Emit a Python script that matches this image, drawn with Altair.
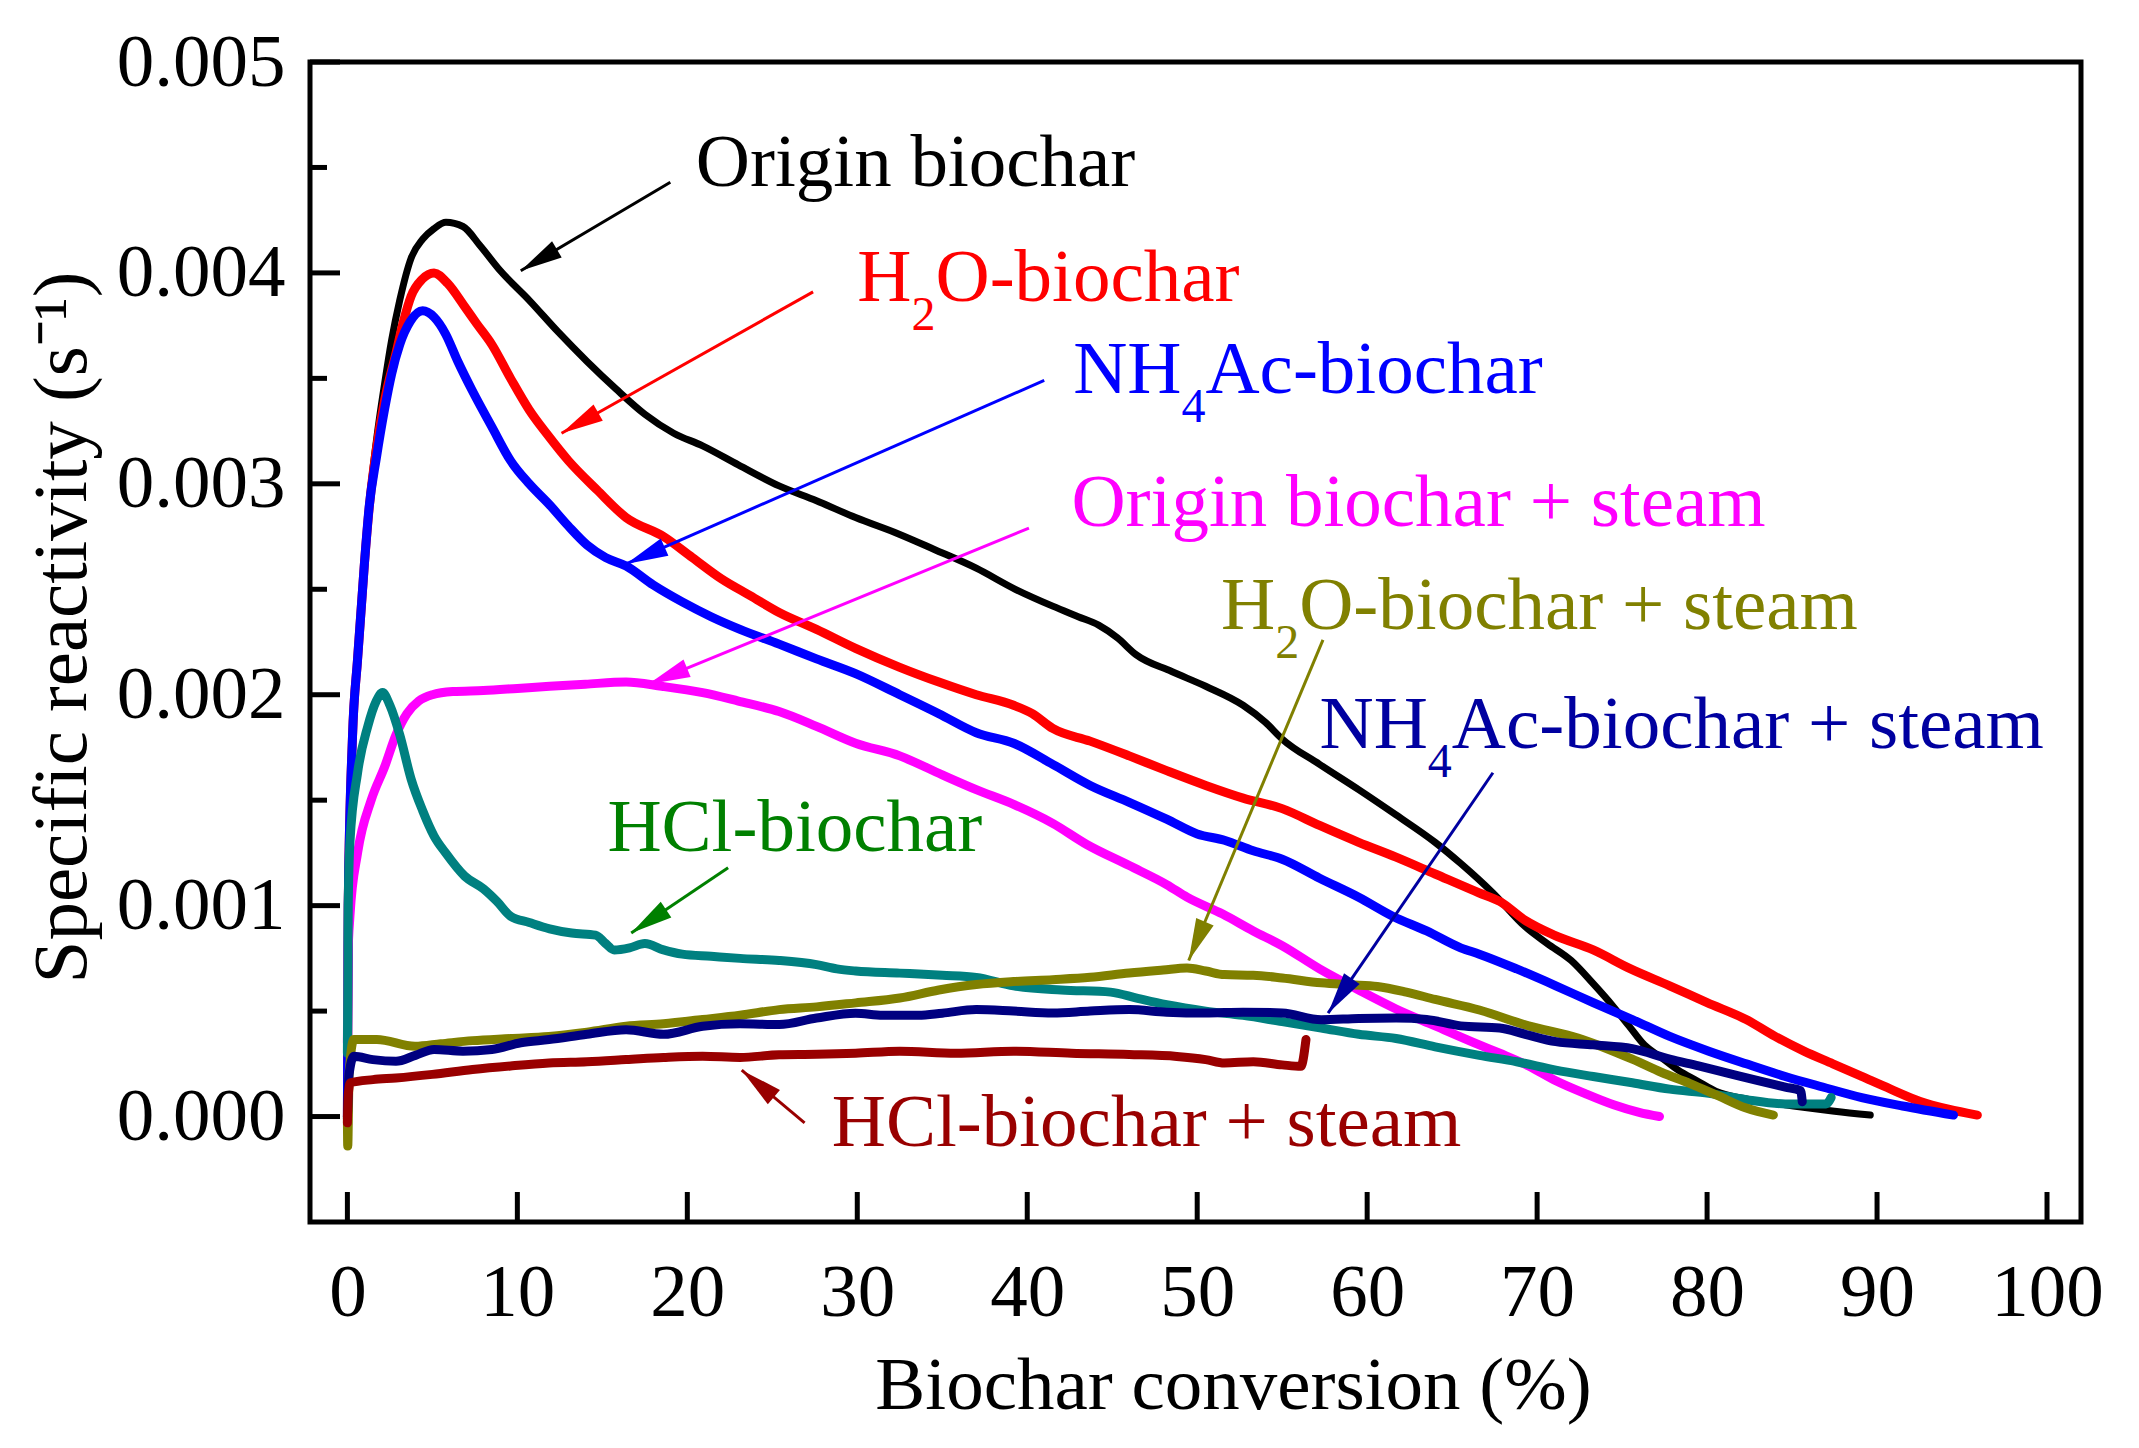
import math
import altair as alt
import pandas as pd

FONT = "Liberation Serif"

# ---------------- axes ----------------
X_DOMAIN = [-2.2, 102]
Y_DOMAIN = [-0.0005, 0.005]
W, H = 1771, 1160
PX_X = W / (X_DOMAIN[1] - X_DOMAIN[0])
PX_Y = H / (Y_DOMAIN[1] - Y_DOMAIN[0])

x_ticks = [0, 10, 20, 30, 40, 50, 60, 70, 80, 90, 100]
y_ticks = [0.0, 0.001, 0.002, 0.003, 0.004, 0.005]
y_minor = [0.0005, 0.0015, 0.0025, 0.0035, 0.0045]

# ---------------- series ----------------
series_names = ["Origin biochar", "H2O-biochar", "NH4Ac-biochar", "Origin biochar + steam",
                "HCl-biochar", "H2O-biochar + steam", "NH4Ac-biochar + steam", "HCl-biochar + steam"]
series_colors = ["#000000", "#FF0000", "#0000FF", "#FF00FF", "#008080", "#808000", "#000080", "#990000"]
series_widths = [7, 9, 9, 9, 9, 9, 9, 9]

origin_x = [0.0, 0.05, 0.3, 0.6, 1.0, 1.3, 1.7, 2.2, 2.6, 3.08, 3.75, 4.43, 5.1, 5.8, 6.8, 7.8, 9.0, 10.7,
            12.4, 14.1, 15.8, 17.5, 19.2, 20.9, 23.0, 25.4, 27.6, 29.9, 32.5, 34.5, 37.0, 39.3, 41.5, 43.0,
            44.2, 45.3, 46.4, 48.5, 50.5, 52.7, 54.0, 55.0, 57.2, 59.5, 61.7, 64.0, 65.5, 67.4, 69.3, 70.6,
            72.0, 73.3, 74.5, 75.4, 76.3, 77.3, 78.3, 79.4, 80.5, 82.5, 84.6, 86.0, 87.5, 89.6]
origin_y = [0.0, 0.00100, 0.00180, 0.00217, 0.00262, 0.00292, 0.00320, 0.00348, 0.00368, 0.00387,
            0.00407, 0.00416, 0.00421, 0.00424, 0.00422, 0.00413, 0.00401, 0.00387, 0.00372, 0.00358,
            0.00345, 0.00333, 0.00324, 0.00318, 0.00309, 0.00299, 0.00292, 0.00284, 0.00276, 0.00269,
            0.00260, 0.00250, 0.00242, 0.00237, 0.00233, 0.00227, 0.00219, 0.00211, 0.00204, 0.00195,
            0.00187, 0.00179, 0.00167, 0.00155, 0.00143, 0.00130, 0.00120, 0.00106, 0.00090, 0.00082,
            0.00074, 0.00063, 0.00052, 0.00043, 0.00034, 0.00028, 0.00022, 0.00017, 0.00012, 0.00008,
            0.000056, 0.00004, 0.000025, 0.000007]

h2o_x = [0.0, 0.05, 0.3, 0.6, 1.0, 1.3, 1.7, 2.2, 2.86, 3.3, 3.75, 4.4, 5.1, 5.9, 6.9, 7.6, 8.5, 9.6, 10.7,
         11.8, 13.0, 14.7, 16.4, 18.6, 20.3, 22.0, 23.7, 25.4, 27.6, 29.9, 32.5, 34.8, 37.0, 39.2, 40.3,
         41.5, 43.7, 46.0, 48.2, 50.5, 52.7, 55.0, 57.2, 59.5, 61.7, 64.0, 66.6, 67.8, 69.3, 71.0, 73.3,
         75.5, 77.8, 80.0, 82.3, 84.0, 85.7, 87.4, 89.1, 90.8, 92.5, 94.2, 95.9]
h2o_y = [0.0, 0.00100, 0.00180, 0.00217, 0.00262, 0.00290, 0.00316, 0.00340, 0.00362, 0.00377,
         0.00389, 0.00397, 0.00400, 0.00395, 0.00384, 0.00376, 0.00366, 0.00350, 0.00335, 0.00323,
         0.00311, 0.00297, 0.00284, 0.00275, 0.00265, 0.00255, 0.00247, 0.00239, 0.00231, 0.00222,
         0.00213, 0.00206, 0.00200, 0.00195, 0.00191, 0.00184, 0.00178, 0.00171, 0.00164, 0.00157,
         0.00151, 0.00146, 0.00138, 0.00130, 0.00123, 0.00115, 0.00106, 0.00102, 0.00093, 0.00086,
         0.00079, 0.00070, 0.00062, 0.00054, 0.00046, 0.00038, 0.00031, 0.00025, 0.00019, 0.00013,
         0.000073, 0.000035, 0.000007]

nh4_x = [0.0, 0.05, 0.3, 0.6, 1.0, 1.28, 1.7, 2.18, 2.6, 3.08, 3.7, 4.43, 5.1, 5.78, 6.5, 7.36, 8.5, 9.6,
         10.7, 11.9, 13.0, 14.1, 15.2, 16.4, 18.0, 19.7, 21.4, 23.1, 25.4, 27.6, 29.9, 32.5, 34.8, 37.0,
         39.2, 41.5, 43.7, 46.0, 48.2, 50.0, 51.6, 53.3, 55.0, 57.2, 59.5, 61.5, 63.5, 65.5, 66.6, 68.8,
         71.1, 73.3, 75.6, 77.8, 80.1, 82.3, 84.6, 86.8, 89.1, 91.5, 94.5]
nh4_y = [0.0, 0.00100, 0.00180, 0.00217, 0.00262, 0.00289, 0.00312, 0.00335, 0.00352, 0.00366,
         0.00377, 0.00382, 0.00379, 0.00371, 0.00358, 0.00344, 0.00327, 0.00311, 0.00300, 0.00290,
         0.00280, 0.00271, 0.00265, 0.00261, 0.00252, 0.00244, 0.00237, 0.00231, 0.00224, 0.00217,
         0.00210, 0.00200, 0.00191, 0.00182, 0.00177, 0.00167, 0.00157, 0.00149, 0.00141, 0.00134,
         0.00131, 0.00126, 0.00122, 0.00113, 0.00104, 0.00095, 0.00088, 0.00080, 0.00077, 0.00070,
         0.00062, 0.00054, 0.00046, 0.00038, 0.00031, 0.00025, 0.00019, 0.00014, 0.00009, 0.00005,
         0.000007]

origin_steam_x = [0.0, 0.03, 0.15, 0.6, 1.4, 2.2, 2.86, 3.5, 4.2, 5.0, 6.2, 8.0, 10.0, 11.9, 14.0, 16.4,
                  18.5, 20.9, 23.0, 25.4, 27.6, 29.9, 32.5, 35.0, 37.0, 39.2, 41.5, 43.5, 46.0, 48.2,
                  49.4, 51.5, 53.3, 55.0, 57.2, 59.5, 61.7, 64.0, 66.6, 67.8, 69.5, 71.1, 72.8, 74.5,
                  76.0, 77.2]
origin_steam_y = [0.00035, 0.00075, 0.00095, 0.00125, 0.00150, 0.00166, 0.00181, 0.00191, 0.00197,
                  0.00200, 0.002015, 0.00202, 0.00203, 0.00204, 0.00205, 0.00206, 0.00204, 0.00201,
                  0.00197, 0.00192, 0.00185, 0.00177, 0.00171, 0.00162, 0.00155, 0.00148, 0.00139,
                  0.00129, 0.00119, 0.00110, 0.00104, 0.00096, 0.00088, 0.00081, 0.00070, 0.00060,
                  0.00051, 0.00043, 0.00034, 0.00030, 0.00024, 0.00017, 0.00011, 0.000056, 0.00002, 0.0]

hcl_x = [0.0, 0.05, 0.15, 0.6, 1.2, 1.7, 2.07, 2.5, 3.08, 3.75, 4.43, 5.1, 5.78, 6.9, 8.0, 8.8, 9.6, 10.7,
         11.9, 13.2, 14.6, 15.2, 15.7, 16.6, 17.5, 18.6, 19.7, 21.4, 23.1, 25.4, 27.6, 28.8, 29.9, 32.5,
         35.0, 37.0, 39.2, 42.0, 44.9, 46.5, 48.2, 50.5, 52.7, 55.0, 57.3, 59.5, 61.7, 64.0, 66.6, 68.8,
         71.1, 73.3, 75.6, 77.8, 80.1, 82.3, 84.6, 86.0, 87.0, 87.3]
hcl_y = [0.00030, 0.00100, 0.00130, 0.00163, 0.00185, 0.00197, 0.00201, 0.00195, 0.00181, 0.00160,
         0.00145, 0.00133, 0.00125, 0.00114, 0.00108, 0.00102, 0.00095, 0.00092, 0.00089, 0.00087,
         0.00086, 0.00082, 0.00079, 0.00080, 0.00082, 0.00079, 0.00077, 0.00076, 0.00075, 0.00074,
         0.00072, 0.00070, 0.00069, 0.00068, 0.00067, 0.00066, 0.00062, 0.00060, 0.00059, 0.00056,
         0.00053, 0.00050, 0.00048, 0.00045, 0.00042, 0.00039, 0.00037, 0.00033, 0.00029, 0.00026,
         0.00022, 0.00019, 0.00016, 0.00013, 0.00011, 0.00008, 0.00006, 0.00006, 0.00006, 0.00009]

h2o_steam_x = [0.0, 0.02, 0.1, 0.38, 1.73, 3.98, 5.5, 7.36, 9.6, 11.86, 14.1, 16.4, 18.6, 20.9, 23.1,
               25.4, 27.6, 29.9, 32.5, 34.8, 37.0, 39.2, 41.5, 43.7, 46.0, 48.0, 49.4, 50.5, 51.6, 53.3,
               55.0, 57.3, 59.0, 60.6, 62.3, 64.0, 66.6, 69.5, 72.4, 75.6, 77.3, 79.0, 80.6, 82.3, 83.9]
h2o_steam_y = [0.0, -0.00014, 0.00020, 0.000365, 0.000365, 0.000333, 0.000345, 0.00036, 0.00037,
               0.00038, 0.00040, 0.000428, 0.00044, 0.00046, 0.00048, 0.000507, 0.00052, 0.000539,
               0.000562, 0.00060, 0.000626, 0.00064, 0.000649, 0.00066, 0.000681, 0.000695, 0.000704,
               0.00069, 0.000673, 0.00067, 0.000657, 0.000634, 0.000625, 0.000617, 0.00059, 0.000555,
               0.000505, 0.00043, 0.000372, 0.000272, 0.00021, 0.000156, 0.00010, 0.00004, 0.000007]

nh4_steam_x = [0.0, 0.1, 0.38, 1.5, 2.86, 4.0, 5.1, 6.8, 8.5, 10.2, 11.86, 14.1, 16.4, 18.6, 20.9, 23.1,
               25.4, 27.6, 29.9, 31.5, 33.6, 35.0, 37.0, 39.2, 41.5, 43.7, 46.0, 48.2, 50.5, 52.7, 55.0,
               57.3, 59.5, 61.7, 63.5, 65.5, 67.8, 69.3, 71.1, 73.3, 75.6, 77.8, 79.5, 81.2, 83.0, 84.6,
               85.5, 85.6]
nh4_steam_y = [-0.00001, 0.00020, 0.000286, 0.00027, 0.000262, 0.00029, 0.000318, 0.00031, 0.000318,
               0.00035, 0.000365, 0.00039, 0.000412, 0.00039, 0.000428, 0.00044, 0.000436, 0.000467,
               0.00049, 0.00048, 0.00048, 0.00049, 0.000507, 0.00050, 0.000491, 0.00050, 0.000507,
               0.000495, 0.000491, 0.000495, 0.000491, 0.000459, 0.000465, 0.000467, 0.00046, 0.00043,
               0.00042, 0.00039, 0.000355, 0.00034, 0.000322, 0.000272, 0.00024, 0.000206, 0.00017,
               0.00014, 0.000123, 0.00007]

hcl_steam_x = [0.0, 0.05, 0.17, 1.5, 2.86, 5.0, 7.36, 9.6, 11.86, 14.1, 16.4, 18.6, 20.9, 23.1, 25.4,
               27.6, 29.9, 32.5, 35.8, 39.2, 42.6, 46.0, 48.8, 50.5, 51.6, 53.3, 55.0, 56.1, 56.4]
hcl_steam_y = [-0.00003, 0.00010, 0.00016, 0.000175, 0.000183, 0.00020, 0.000223, 0.00024, 0.000254,
               0.00026, 0.00027, 0.00028, 0.000286, 0.00028, 0.000293, 0.000295, 0.00030, 0.00031,
               0.00030, 0.00031, 0.00030, 0.000294, 0.000285, 0.00027, 0.000254, 0.00026, 0.000245,
               0.000238, 0.000365]

series_x = [origin_x, h2o_x, nh4_x, origin_steam_x, hcl_x, h2o_steam_x, nh4_steam_x, hcl_steam_x]
series_y = [origin_y, h2o_y, nh4_y, origin_steam_y, hcl_y, h2o_steam_y, nh4_steam_y, hcl_steam_y]

# ---------------- annotations ----------------
label_x = [20.5, 30.0, 42.7, 42.6, 51.4, 57.2, 15.3, 28.5]
label_y = [0.00441, 0.003866, 0.003431, 0.00280, 0.00231, 0.001746, 0.001258, -0.00014]
label_head = ["Origin biochar", "H", "NH", "Origin biochar + steam", "H", "NH", "HCl-biochar",
              "HCl-biochar + steam"]
label_sub = ["", "2", "4", "", "2", "4", "", ""]
label_tail = ["", "O-biochar", "Ac-biochar", "", "O-biochar + steam", "Ac-biochar + steam", "", ""]
label_color = ["#000000", "#FF0000", "#0000FF", "#FF00FF", "#808000", "#0000A0", "#008000", "#990000"]

arrow_x0 = [19.0, 27.4, 41.0, 40.1, 57.4, 67.4, 22.4, 26.9]
arrow_y0 = [0.00443, 0.00391, 0.00349, 0.00279, 0.00226, 0.00163, 0.00118, -0.00003]
arrow_x1 = [10.2, 12.6, 16.4, 17.7, 49.5, 57.7, 16.7, 23.2]
arrow_y1 = [0.00401, 0.00324, 0.00262, 0.00205, 0.00074, 0.00049, 0.00087, 0.00022]
arrow_color = ["#000000", "#FF0000", "#0000FF", "#FF00FF", "#808000", "#0000A0", "#008000", "#990000"]

# ---------------- encodings ----------------
xscale = alt.Scale(domain=X_DOMAIN, nice=False, zero=False)
yscale = alt.Scale(domain=Y_DOMAIN, nice=False, zero=False)

x_axis = alt.Axis(values=x_ticks, format="d", labelFont=FONT, labelFontSize=75, labelColor="black",
                  ticks=False, tickSize=0, domain=False, grid=False, labelPadding=93,
                  labelBaseline="alphabetic", labelFlush=False, labelOverlap=False,
                  title="Biochar conversion (%)", titleFont=FONT, titleFontSize=75,
                  titleFontWeight="normal", titleColor="black", titleX=923, titleY=186,
                  titleAlign="center", titleBaseline="alphabetic")
y_axis = alt.Axis(values=y_ticks, format=".3f", labelFont=FONT, labelFontSize=75, labelColor="black",
                  ticks=False, tickSize=0, domain=False, grid=False, labelPadding=25,
                  labelFlush=False, labelOverlap=False,
                  title="Specific reactivity (s\u207b\u00b9)", titleFont=FONT, titleFontSize=77,
                  titleFontWeight="normal", titleColor="black", titleAngle=270, titleX=-225,
                  titleY=565, titleAlign="center", titleBaseline="alphabetic")


def X(field):
    return alt.X(field, type="quantitative", scale=xscale, axis=x_axis)


def Y(field):
    return alt.Y(field, type="quantitative", scale=yscale, axis=y_axis)


layers = []

# curves
for name, xs, ys, col, sw in zip(series_names, series_x, series_y, series_colors, series_widths):
    df = pd.DataFrame({"x": xs, "y": ys, "series": name})
    layers.append(
        alt.Chart(df).mark_line(color=col, strokeWidth=sw, interpolate="monotone", clip=True,
                                strokeJoin="round", strokeCap="round")
        .encode(x=X("x"), y=Y("y"))
    )

# inward ticks
ytick_df = pd.DataFrame({"v": y_ticks})
yminor_df = pd.DataFrame({"v": y_minor})
xtick_df = pd.DataFrame({"v": x_ticks})
layers.append(alt.Chart(ytick_df).mark_rule(color="black", strokeWidth=5)
              .encode(y=Y("v"), x=alt.value(0), x2=alt.value(30)))
layers.append(alt.Chart(yminor_df).mark_rule(color="black", strokeWidth=5)
              .encode(y=Y("v"), x=alt.value(0), x2=alt.value(17)))
layers.append(alt.Chart(xtick_df).mark_rule(color="black", strokeWidth=5)
              .encode(x=X("v"), y=alt.value(H), y2=alt.value(H - 30)))

# arrows
angles = []
for xs0, ys0, xs1, ys1 in zip(arrow_x0, arrow_y0, arrow_x1, arrow_y1):
    dxp = (xs1 - xs0) * PX_X
    dyp = -(ys1 - ys0) * PX_Y
    angles.append(math.degrees(math.atan2(dxp, -dyp)) % 360)
arrow_df = pd.DataFrame({"x0": arrow_x0, "y0": arrow_y0, "x1": arrow_x1, "y1": arrow_y1,
                         "c": arrow_color, "angle": angles})
layers.append(alt.Chart(arrow_df).mark_rule(strokeWidth=3)
              .encode(x=X("x0"), y=Y("y0"), x2="x1", y2="y1",
                      color=alt.Color("c:N", scale=None)))
layers.append(alt.Chart(arrow_df).mark_point(shape="M0,0L0.45,2L-0.45,2Z", filled=True, opacity=1,
                                              size=1764, strokeWidth=0)
              .encode(x=X("x1"), y=Y("y1"), color=alt.Color("c:N", scale=None),
                      angle=alt.Angle("angle:Q", scale=None)))

# labels
lab_df = pd.DataFrame({"x": label_x, "y": label_y, "head": label_head, "sub": label_sub,
                       "tail": label_tail, "c": label_color})
text_kw = dict(font=FONT, fontSize=75, align="left", baseline="alphabetic")
layers.append(alt.Chart(lab_df).mark_text(**text_kw)
              .encode(x=X("x"), y=Y("y"), text="head:N", color=alt.Color("c:N", scale=None)))
for head, w in (("H", 54.2), ("NH", 108.3)):
    sub_df = lab_df[lab_df["head"] == head]
    layers.append(alt.Chart(sub_df).mark_text(font=FONT, fontSize=48, align="left",
                                              baseline="alphabetic", dx=w, dy=29)
                  .encode(x=X("x"), y=Y("y"), text="sub:N", color=alt.Color("c:N", scale=None)))
    layers.append(alt.Chart(sub_df).mark_text(dx=w + 24, **text_kw)
                  .encode(x=X("x"), y=Y("y"), text="tail:N", color=alt.Color("c:N", scale=None)))

chart = (
    alt.layer(*layers)
    .properties(width=W, height=H,
                autosize=alt.AutoSizeParams(type="none"),
                padding={"left": 302, "top": 54, "right": 45, "bottom": 210},
                background="white")
    .configure_view(stroke="black", strokeWidth=5)
)

chart.save("out.html", embed_options={"renderer": "svg", "actions": False})
